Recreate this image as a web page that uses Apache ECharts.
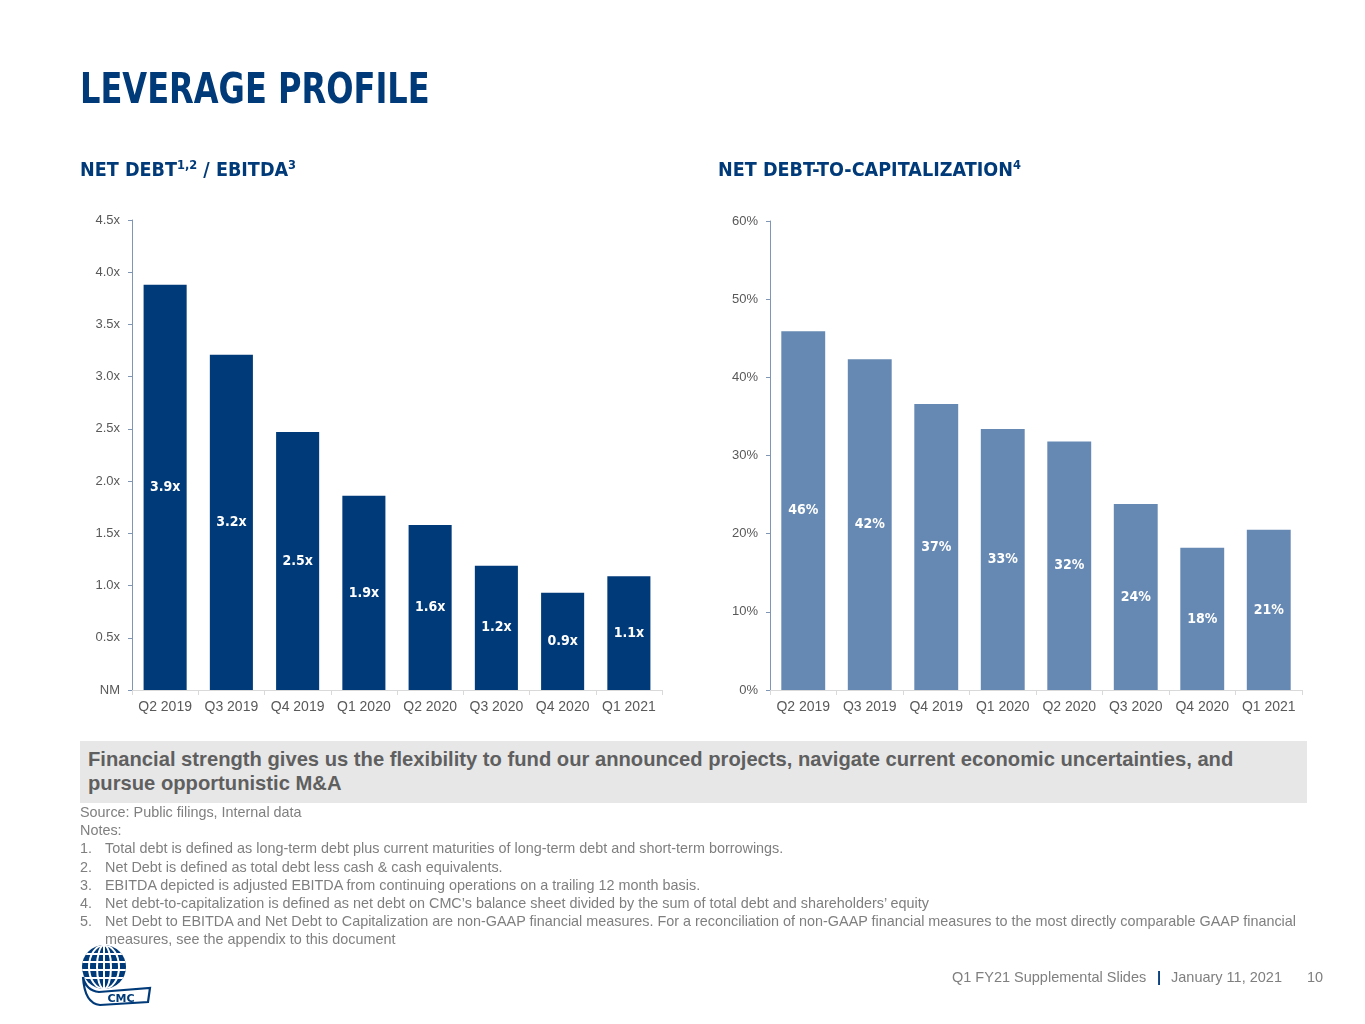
<!DOCTYPE html>
<html>
<head>
<meta charset="utf-8">
<script src="https://cdn.jsdelivr.net/npm/echarts@6/dist/echarts.min.js"></script>
<style>
  html, body { margin:0; padding:0; background:#fff; }
  body { width:1365px; height:1024px; position:relative; overflow:hidden; font-family:"Liberation Sans", Arial, sans-serif; }
  #chart { position:absolute; left:0; top:0; width:1365px; height:1024px; }
  .abs { position:absolute; white-space:nowrap; }
  .title { left:80px; top:63px; font-family:"DejaVu Sans", sans-serif; font-weight:bold; font-size:43px; color:#003a78; transform:scaleX(0.746); transform-origin:0 0; }
  .sub { font-family:"DejaVu Sans", sans-serif; font-weight:bold; font-size:20px; color:#003a78; top:157px; transform:scaleX(0.88); transform-origin:0 0; }
  .sub sup { font-size:13px; position:relative; top:-1px; vertical-align:6px; line-height:0; }
  .box { left:80px; top:741px; width:1227px; height:62px; background:#e7e7e8; }
  .boxtext { left:88px; top:747px; font-weight:bold; font-size:20.2px; color:#5f5f5f; line-height:24px; }
  .notes { left:80px; top:803px; font-family:"Liberation Sans",sans-serif; font-size:14.4px; color:#7f7f7f; line-height:18.2px; }
  .notes .li { padding-left:25px; text-indent:-25px; white-space:nowrap; }
  .notes .n { display:inline-block; width:25px; text-indent:0; }
  .footer { top:969px; font-family:"Liberation Sans",sans-serif; font-size:14.5px; color:#7f7f7f; }
</style>
</head>
<body>
<div id="chart"></div>
<div class="abs title">LEVERAGE PROFILE</div>
<div class="abs sub" style="left:80px;">NET DEBT<sup>1,2</sup> / EBITDA<sup>3</sup></div>
<div class="abs sub" style="left:718px;">NET DEBT-TO-CAPITALIZATION<sup>4</sup></div>
<div class="abs box"></div>
<div class="abs boxtext">Financial strength gives us the flexibility to fund our announced projects, navigate current economic uncertainties, and<br>pursue opportunistic M&amp;A</div>
<div class="abs notes">
  <div>Source: Public filings, Internal data</div>
  <div>Notes:</div>
  <div class="li"><span class="n">1.</span>Total debt is defined as long-term debt plus current maturities of long-term debt and short-term borrowings.</div>
  <div class="li"><span class="n">2.</span>Net Debt is defined as total debt less cash &amp; cash equivalents.</div>
  <div class="li"><span class="n">3.</span>EBITDA depicted is adjusted EBITDA from continuing operations on a trailing 12 month basis.</div>
  <div class="li"><span class="n">4.</span>Net debt-to-capitalization is defined as net debt on CMC’s balance sheet divided by the sum of total debt and shareholders’ equity</div>
  <div class="li"><span class="n">5.</span>Net Debt to EBITDA and Net Debt to Capitalization are non-GAAP financial measures. For a reconciliation of non-GAAP financial measures to the most directly comparable GAAP financial<br>measures, see the appendix to this document</div>
</div>
<div class="abs footer" style="left:952px;">Q1 FY21 Supplemental Slides</div>
<div class="abs footer" style="left:1157px; color:#003a78; font-weight:bold;">|</div>
<div class="abs footer" style="left:1171px;">January 11, 2021</div>
<div class="abs footer" style="left:1307px;">10</div>
<svg class="abs" style="left:80px; top:944px;" width="74" height="64" viewBox="0 0 74 64">
  <defs><clipPath id="g"><circle cx="24" cy="23" r="22"/></clipPath></defs>
  <g clip-path="url(#g)">
    <rect x="0" y="0" width="50" height="50" fill="#003a78"/>
    <g stroke="#fff" stroke-width="2" fill="none">
      <line x1="0" y1="10" x2="50" y2="10"/><line x1="0" y1="18" x2="50" y2="18"/>
      <line x1="0" y1="26" x2="50" y2="26"/><line x1="0" y1="34" x2="50" y2="34"/>
      <ellipse cx="24" cy="23" rx="7" ry="22"/><ellipse cx="24" cy="23" rx="15" ry="22"/>
      <line x1="24" y1="0" x2="24" y2="50"/>
    </g>
  </g>
  <path d="M3 33 C5 42 10 47 19 48 L70 44 L68 58 L20 61 C10 60 4 50 3 33 Z" fill="#fff" stroke="#003a78" stroke-width="2.2"/>
  <text x="41" y="58" text-anchor="middle" font-family="DejaVu Sans, sans-serif" font-weight="bold" font-size="11" fill="#003a78">CMC</text>
</svg>
<script>
const categories = ['Q2 2019','Q3 2019','Q4 2019','Q1 2020','Q2 2020','Q3 2020','Q4 2020','Q1 2021'];
const debtEbitda = [3.88, 3.21, 2.47, 1.86, 1.58, 1.19, 0.93, 1.09];
const debtEbitdaLabels = ['3.9x','3.2x','2.5x','1.9x','1.6x','1.2x','0.9x','1.1x'];
const debtCap = [45.9, 42.3, 36.6, 33.4, 31.8, 23.8, 18.2, 20.5];
const debtCapLabels = ['46%','42%','37%','33%','32%','24%','18%','21%'];

const chart = echarts.init(document.getElementById('chart'), null, {renderer:'canvas'});
const axisLabelStyle = { color:'#595959', fontSize:14, fontFamily:'Liberation Sans, Arial, sans-serif' };
function xAxis(gi){ return {
  type:'category', gridIndex:gi, data:categories,
  axisLine:{ lineStyle:{ color:'#d9d9d9', width:1 } },
  axisTick:{ show:true, alignWithLabel:false, length:5, lineStyle:{ color:'#d9d9d9' } },
  axisLabel:Object.assign({ margin:10, interval:0 }, axisLabelStyle)
};}
const labelStyle = { show:true, position:'inside', color:'#fff', fontWeight:'bold', fontSize:14, fontFamily:'DejaVu Sans Condensed, DejaVu Sans, sans-serif' };
chart.setOption({
  animation:false,
  grid:[
    { left:132, top:220, width:530, height:470 },
    { left:770, top:221, width:532, height:469 }
  ],
  xAxis:[ xAxis(0), xAxis(1) ],
  yAxis:[
    { type:'value', gridIndex:0, min:0, max:4.5, interval:0.5,
      axisLine:{ show:true, lineStyle:{ color:'#7f97b5' } },
      axisTick:{ show:true, length:4, lineStyle:{ color:'#7f97b5' } },
      splitLine:{ show:false },
      axisLabel:Object.assign({ margin:12, formatter:v => v === 0 ? 'NM' : v.toFixed(1) + 'x' }, axisLabelStyle, { fontSize:13 }) },
    { type:'value', gridIndex:1, min:0, max:60, interval:10,
      axisLine:{ show:true, lineStyle:{ color:'#7f97b5' } },
      axisTick:{ show:true, length:4, lineStyle:{ color:'#7f97b5' } },
      splitLine:{ show:false },
      axisLabel:Object.assign({ margin:12, formatter:v => v + '%' }, axisLabelStyle, { fontSize:13 }) }
  ],
  series:[
    { type:'bar', xAxisIndex:0, yAxisIndex:0, data:debtEbitda, barWidth:'65%',
      itemStyle:{ color:'#003a78' },
      label:Object.assign({ formatter:p => debtEbitdaLabels[p.dataIndex] }, labelStyle) },
    { type:'bar', xAxisIndex:1, yAxisIndex:1, data:debtCap, barWidth:'66%',
      itemStyle:{ color:'#6689b3' },
      label:Object.assign({ formatter:p => debtCapLabels[p.dataIndex] }, labelStyle) }
  ]
});
</script>
</body>
</html>
